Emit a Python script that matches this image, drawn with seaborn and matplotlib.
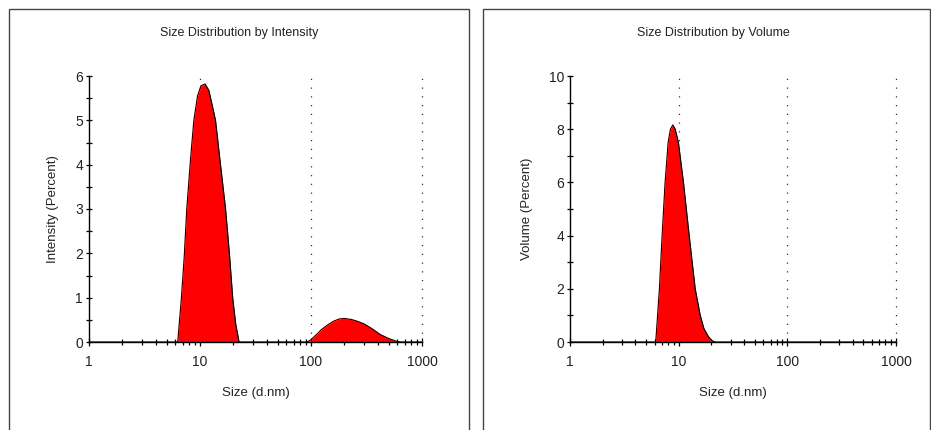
import matplotlib
matplotlib.use("Agg")
import matplotlib.pyplot as plt
import matplotlib.ticker as mticker
from matplotlib.patches import Rectangle
import numpy as np
import pandas as pd
import seaborn as sns

# ---- data ----
int_size = [1, 6.3, 6.8, 7.2, 7.6, 8.2, 8.8, 9.5, 10.2, 11.1, 12.0, 13.0, 13.8,
            15.3, 17.0, 18.4, 19.7, 21.0, 22.5,
            92, 100, 110, 123, 140, 160, 180, 200, 230, 260, 300, 350, 420, 500, 600, 650, 1000]
int_pct = [0, 0, 1.0, 1.9, 3.0, 4.1, 5.0, 5.55, 5.78, 5.82, 5.68, 5.3, 5.0,
           4.0, 3.0, 2.0, 1.0, 0.4, 0,
           0, 0.05, 0.15, 0.27, 0.38, 0.47, 0.52, 0.53, 0.51, 0.47, 0.41, 0.31, 0.17, 0.08, 0.01, 0, 0]

vol_size = [1, 6.15, 6.65, 7.04, 7.5, 8.0, 8.4, 8.83, 9.3, 9.95, 11.07, 12.5,
            14.2, 15.8, 17.1, 18.8, 20.3, 21.7, 1000]
vol_pct = [0, 0, 2.0, 4.0, 6.0, 7.5, 8.0, 8.16, 8.0, 7.5, 6.0, 4.0,
           2.0, 1.0, 0.5, 0.2, 0.05, 0, 0]

titles = ["Size Distribution by Intensity", "Size Distribution by Volume"]
ylabels = ["Intensity (Percent)", "Volume (Percent)"]
xlabel = "Size (d.nm)"
ymax = [6, 10]
ymajor = [1, 2]
xticks = [1, 10, 100, 1000]
xticklabels = ["1", "10", "100", "1000"]

sns.set_style("ticks")
plt.rcParams["font.family"] = ["Liberation Sans", "DejaVu Sans"]

W, H = 931, 430
fig = plt.figure(figsize=(W / 100, H / 100), dpi=100)

# panel frames
for (x0, x1) in [(9, 469), (483, 930)]:
    fig.patches.append(Rectangle((x0 / W, -0.1), (x1 - x0) / W, (H - 9) / H + 0.1,
                                 transform=fig.transFigure, fill=False,
                                 edgecolor="#444444", linewidth=1.0, clip_on=False))

axes_pos = [(89, 422), (570, 896)]
title_x = [239, 713]
ylab_x = [59, 533]
data = [(int_size, int_pct), (vol_size, vol_pct)]

for i in range(2):
    px0, px1 = axes_pos[i]
    ax = fig.add_axes([px0 / W, 1 - 342 / H, (px1 - px0) / W, (342 - 76) / H])
    ax.set_facecolor("none")
    df = pd.DataFrame({"size": data[i][0], "pct": data[i][1]})
    ax.set_xscale("log")
    # dotted guide lines
    for xv in [10, 100, 1000]:
        ax.plot([xv, xv], [0, ymax[i]], color="#333333", lw=0.9,
                linestyle=(0, (1, 6)), zorder=1, clip_on=False)
    ax.fill_between(df["size"], 0, df["pct"], color="#ff0000", zorder=2, linewidth=0)
    sns.lineplot(data=df, x="size", y="pct", ax=ax, color="black", lw=0.8,
                 zorder=3, sort=False, estimator=None)
    ax.set_xlim(1, 1000)
    ax.set_ylim(0, ymax[i])
    ax.set_xticks(xticks)
    ax.set_xticklabels(xticklabels)
    ax.xaxis.set_minor_locator(mticker.LogLocator(base=10, subs=np.arange(2, 10)))
    ax.xaxis.set_minor_formatter(mticker.NullFormatter())
    ax.yaxis.set_major_locator(mticker.MultipleLocator(ymajor[i]))
    ax.yaxis.set_minor_locator(mticker.MultipleLocator(ymajor[i] / 2))
    for s in ["top", "right"]:
        ax.spines[s].set_visible(False)
    for s in ["left", "bottom"]:
        ax.spines[s].set_linewidth(1.0)
        ax.spines[s].set_color("black")
        ax.spines[s].set_zorder(4)
    ax.tick_params(axis="both", which="both", direction="inout", length=4.5,
                   width=0.9, color="black", labelsize=10, labelcolor="#222222",
                   bottom=True, left=True, top=False, right=False)
    ax.tick_params(axis="x", which="major", length=6, pad=6)
    ax.tick_params(axis="x", which="minor", length=4)
    ax.tick_params(axis="y", which="major", pad=2)
    ax.set_xlabel(xlabel, fontsize=9.5, color="#222222")
    ax.set_ylabel(ylabels[i], fontsize=9.5, color="#222222")
    ax.xaxis.set_label_coords(0.5, -0.169)
    ax.yaxis.set_label_coords((ylab_x[i] - px0) / (px1 - px0), 0.5)
    fig.text(title_x[i] / W, 1 - 33 / H, titles[i], ha="center", va="center",
             fontsize=9, color="#222222")

fig.savefig("out.png", dpi=100)
